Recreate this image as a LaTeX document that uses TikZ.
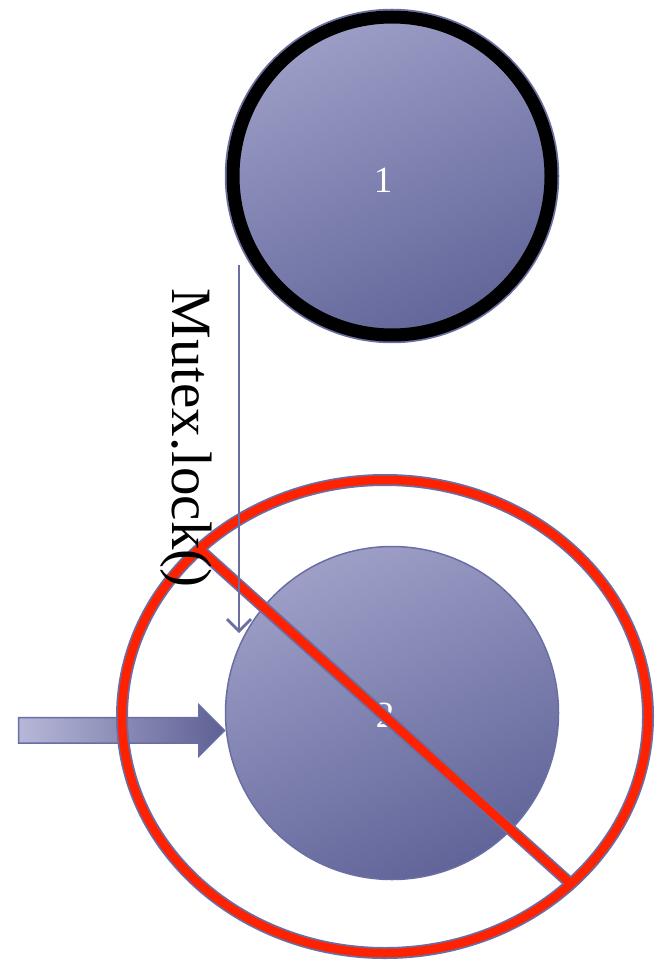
\documentclass[tikz,border=0pt]{standalone}
\usepackage{fontspec}
\setmainfont{Liberation Serif}
\usetikzlibrary{shapes}
\usetikzlibrary{arrows.meta}
\usetikzlibrary{positioning}
\usetikzlibrary{calc}

\definecolor{ballTop}{HTML}{9D9FC7}
\definecolor{ballBottom}{HTML}{606498}
\definecolor{edgeBlue}{HTML}{6A6EA4}
\definecolor{banRed}{HTML}{FF2200}
\definecolor{feedLight}{HTML}{B7B8D8}
\definecolor{feedDark}{HTML}{5D6093}

\begin{document}
\begin{tikzpicture}[x = 1pt, y = 1pt, > = {Straight Barb[length = 12pt, width = 24pt]}]
\tikzset{
  ball/.style = {circle, draw = edgeBlue, line width = 1.5pt, inner sep = 0, minimum size = 333pt, top color = ballTop, bottom color = ballBottom, shading angle = 25},
  num/.style = {text = white, inner sep = 0, font = \fontsize{37}{40}\selectfont},
  ring/.style = {draw = black, line width = 13pt},
  flow/.style = {->, draw = edgeBlue, line width = 2.8pt},
  lockLabel/.style = {xshift = -53pt, rotate = -90, inner sep = 0, font = \fontsize{57}{60}\selectfont},
  feed/.style = {single arrow, draw = edgeBlue, line width = 1.5pt, left color = feedLight, right color = feedDark, inner xsep = 0, inner ysep = 12pt, single arrow head extend = 13pt, minimum height = 206pt, anchor = tip},
  banShape/.style = {ellipse, minimum width = 526pt, minimum height = 473pt, inner sep = 0},
  banEdge/.style = {draw = edgeBlue, line width = 12pt},
  banLine/.style = {draw = banRed, line width = 8.5pt},
}
\useasboundingbox (0, 0) rectangle (654, -965);
\node [ball] (first) at (392, -176) {};
\draw [ring] (first.center) circle [radius = 159];
\node [num] (firstNum) at ($(first) + (-9, -4)$) {1};
\node [ball] (second) at (392, -713) {};
\node [num] (secondNum) at ($(second) + (-7, -2)$) {2};
\node [feed] (push) at (second.186) {};
\node [banShape] (ban) at (385, -716.5) {};
\foreach \look in {banEdge, banLine} {
  \draw [\look] (ban.center) ellipse [x radius = 263, y radius = 236.5];
  \draw [\look] (ban.138) -- (ban.-42);
}
\coordinate (lockFrom) at (239, -265);
\coordinate (lockTo) at (239, -633);
\draw [flow] (lockFrom) -- node [lockLabel, pos = 0.47] {Mutex.lock()} (lockTo);
\end{tikzpicture}
\end{document}
